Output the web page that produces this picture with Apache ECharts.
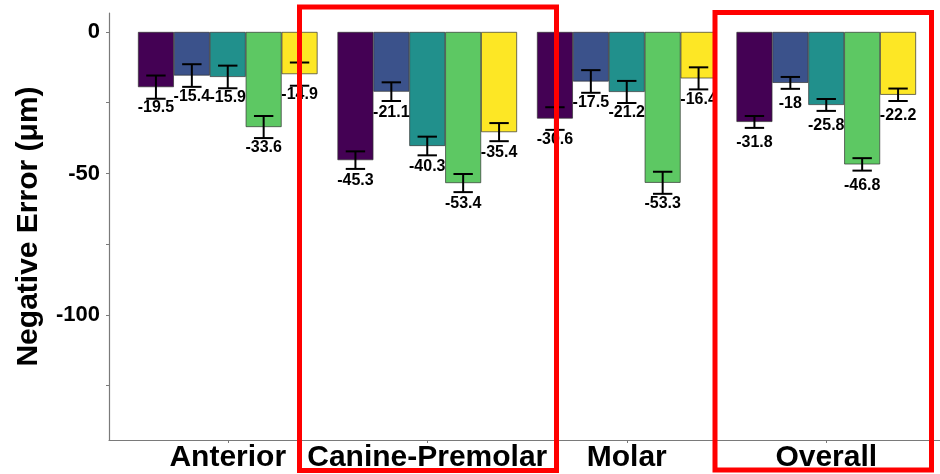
<!DOCTYPE html>
<html>
<head>
<meta charset="utf-8">
<script src="https://cdn.jsdelivr.net/npm/echarts@6/dist/echarts.min.js"></script>
<style>
  html, body { margin: 0; padding: 0; background: #fff; }
  #main { width: 940px; height: 474px; }
</style>
</head>
<body>
<div id="main"></div>
<script>
var categories = ['Anterior', 'Canine-Premolar', 'Molar', 'Overall'];
var seriesNames = ['G1', 'G2', 'G3', 'G4', 'G5'];
var colors = ['#440154', '#3b528b', '#21908c', '#5dc863', '#fde725'];

// mean negative error per group (one array per series)
var meanG1 = [-19.5, -45.3, -30.6, -31.8];
var meanG2 = [-15.4, -21.1, -17.5, -18];
var meanG3 = [-15.9, -40.3, -21.2, -25.8];
var meanG4 = [-33.6, -53.4, -53.3, -46.8];
var meanG5 = [-14.9, -35.4, -16.4, -22.2];

// error bar half-lengths
var errG1 = [4.1, 3.1, 4.0, 2.1];
var errG2 = [4.0, 3.3, 4.0, 2.1];
var errG3 = [4.0, 3.3, 3.9, 2.1];
var errG4 = [3.9, 3.2, 3.9, 2.2];
var errG5 = [4.1, 3.2, 3.9, 2.2];

var yTicks = [0, -25, -50, -75, -100, -125];
var yLabels = [0, -50, -100];

var means = [meanG1, meanG2, meanG3, meanG4, meanG5];
var errs = [errG1, errG2, errG3, errG4, errG5];

var FONT = '"Liberation Sans", Arial, sans-serif';
var Y_MIN = -144.2, Y_MAX = 6.7;
var LABEL_GAP = 7.4; // label sits this far below the bar end (data units)

var chart = echarts.init(document.getElementById('main'));

function errRenderer(sIdx) {
  return function (params, api) {
    var cat = api.value(0), mean = api.value(1), err = api.value(2);
    var band = api.size([1, 0])[0];
    var barW = 0.18 * band;
    var cx = api.coord([cat, 0])[0] - 0.45 * band + (sIdx + 0.5) * barW;
    var yTop = api.coord([cat, mean + err])[1];
    var yBot = api.coord([cat, mean - err])[1];
    var yLab = api.coord([cat, mean - LABEL_GAP])[1];
    var half = barW * 0.27;
    var ls = { stroke: '#000', lineWidth: 2 };
    return {
      type: 'group',
      children: [
        { type: 'line', shape: { x1: cx, y1: yTop, x2: cx, y2: yBot }, style: ls },
        { type: 'line', shape: { x1: cx - half, y1: yTop, x2: cx + half, y2: yTop }, style: ls },
        { type: 'line', shape: { x1: cx - half, y1: yBot, x2: cx + half, y2: yBot }, style: ls },
        { type: 'text', x: cx, y: yLab, style: {
            text: String(mean), fill: '#000', font: 'bold 16px ' + FONT,
            align: 'center', verticalAlign: 'middle' } }
      ]
    };
  };
}

var series = [];
for (var i = 0; i < 5; i++) {
  series.push({
    name: seriesNames[i],
    type: 'bar',
    xAxisIndex: 0,
    yAxisIndex: 0,
    data: means[i],
    barGap: '0%',
    barCategoryGap: '10%',
    itemStyle: { color: colors[i], borderColor: '#333', borderWidth: 0.7 }
  });
}
for (var j = 0; j < 5; j++) {
  var d = [];
  for (var k = 0; k < categories.length; k++) d.push([k, means[j][k], errs[j][k]]);
  series.push({
    type: 'custom',
    xAxisIndex: 0,
    yAxisIndex: 0,
    z: 5,
    renderItem: errRenderer(j),
    data: d
  });
}

var option = {
  backgroundColor: '#fff',
  animation: false,
  grid: [
    { left: 128, right: 14, top: 13, bottom: 34 },   // bars
    { left: 109, right: 0, top: 13, bottom: 34 }     // axis frame
  ],
  xAxis: [
    {
      type: 'category',
      gridIndex: 0,
      data: categories,
      axisLine: { show: false, onZero: false },
      axisTick: { show: true, alignWithLabel: true, length: 3, lineStyle: { color: '#777' } },
      axisLabel: { color: '#000', fontSize: 30, fontWeight: 'bold', fontFamily: FONT, margin: 3, interval: 0 },
      splitLine: { show: false }
    },
    {
      type: 'value',
      gridIndex: 1,
      min: 0, max: 1,
      axisLine: { show: true, onZero: false, lineStyle: { color: '#7a7a7a', width: 1.2 } },
      axisTick: { show: false },
      axisLabel: { show: false },
      splitLine: { show: false }
    }
  ],
  yAxis: [
    {
      type: 'value',
      gridIndex: 0,
      min: Y_MIN, max: Y_MAX,
      show: false
    },
    {
      type: 'value',
      gridIndex: 1,
      min: Y_MIN, max: Y_MAX,
      name: 'Negative Error (μm)',
      nameLocation: 'middle',
      nameGap: 65,
      nameTextStyle: { color: '#000', fontSize: 30, fontWeight: 'bold', fontFamily: FONT },
      axisLine: { show: true, onZero: false, lineStyle: { color: '#7a7a7a', width: 1.2 } },
      axisTick: { show: true, length: 3, customValues: yTicks, lineStyle: { color: '#7a7a7a' } },
      axisLabel: { color: '#000', fontSize: 22, fontWeight: 'bold', fontFamily: FONT, margin: 9, customValues: yLabels },
      splitLine: { show: false }
    }
  ],
  graphic: [
    { type: 'rect', z: 100, shape: { x: 299.5, y: 7, width: 257, height: 463.5 },
      style: { fill: 'none', stroke: '#ff0000', lineWidth: 5 } },
    { type: 'rect', z: 100, shape: { x: 715, y: 12.5, width: 216.5, height: 457.5 },
      style: { fill: 'none', stroke: '#ff0000', lineWidth: 5 } }
  ],
  series: series
};

chart.setOption(option);
</script>
</body>
</html>
